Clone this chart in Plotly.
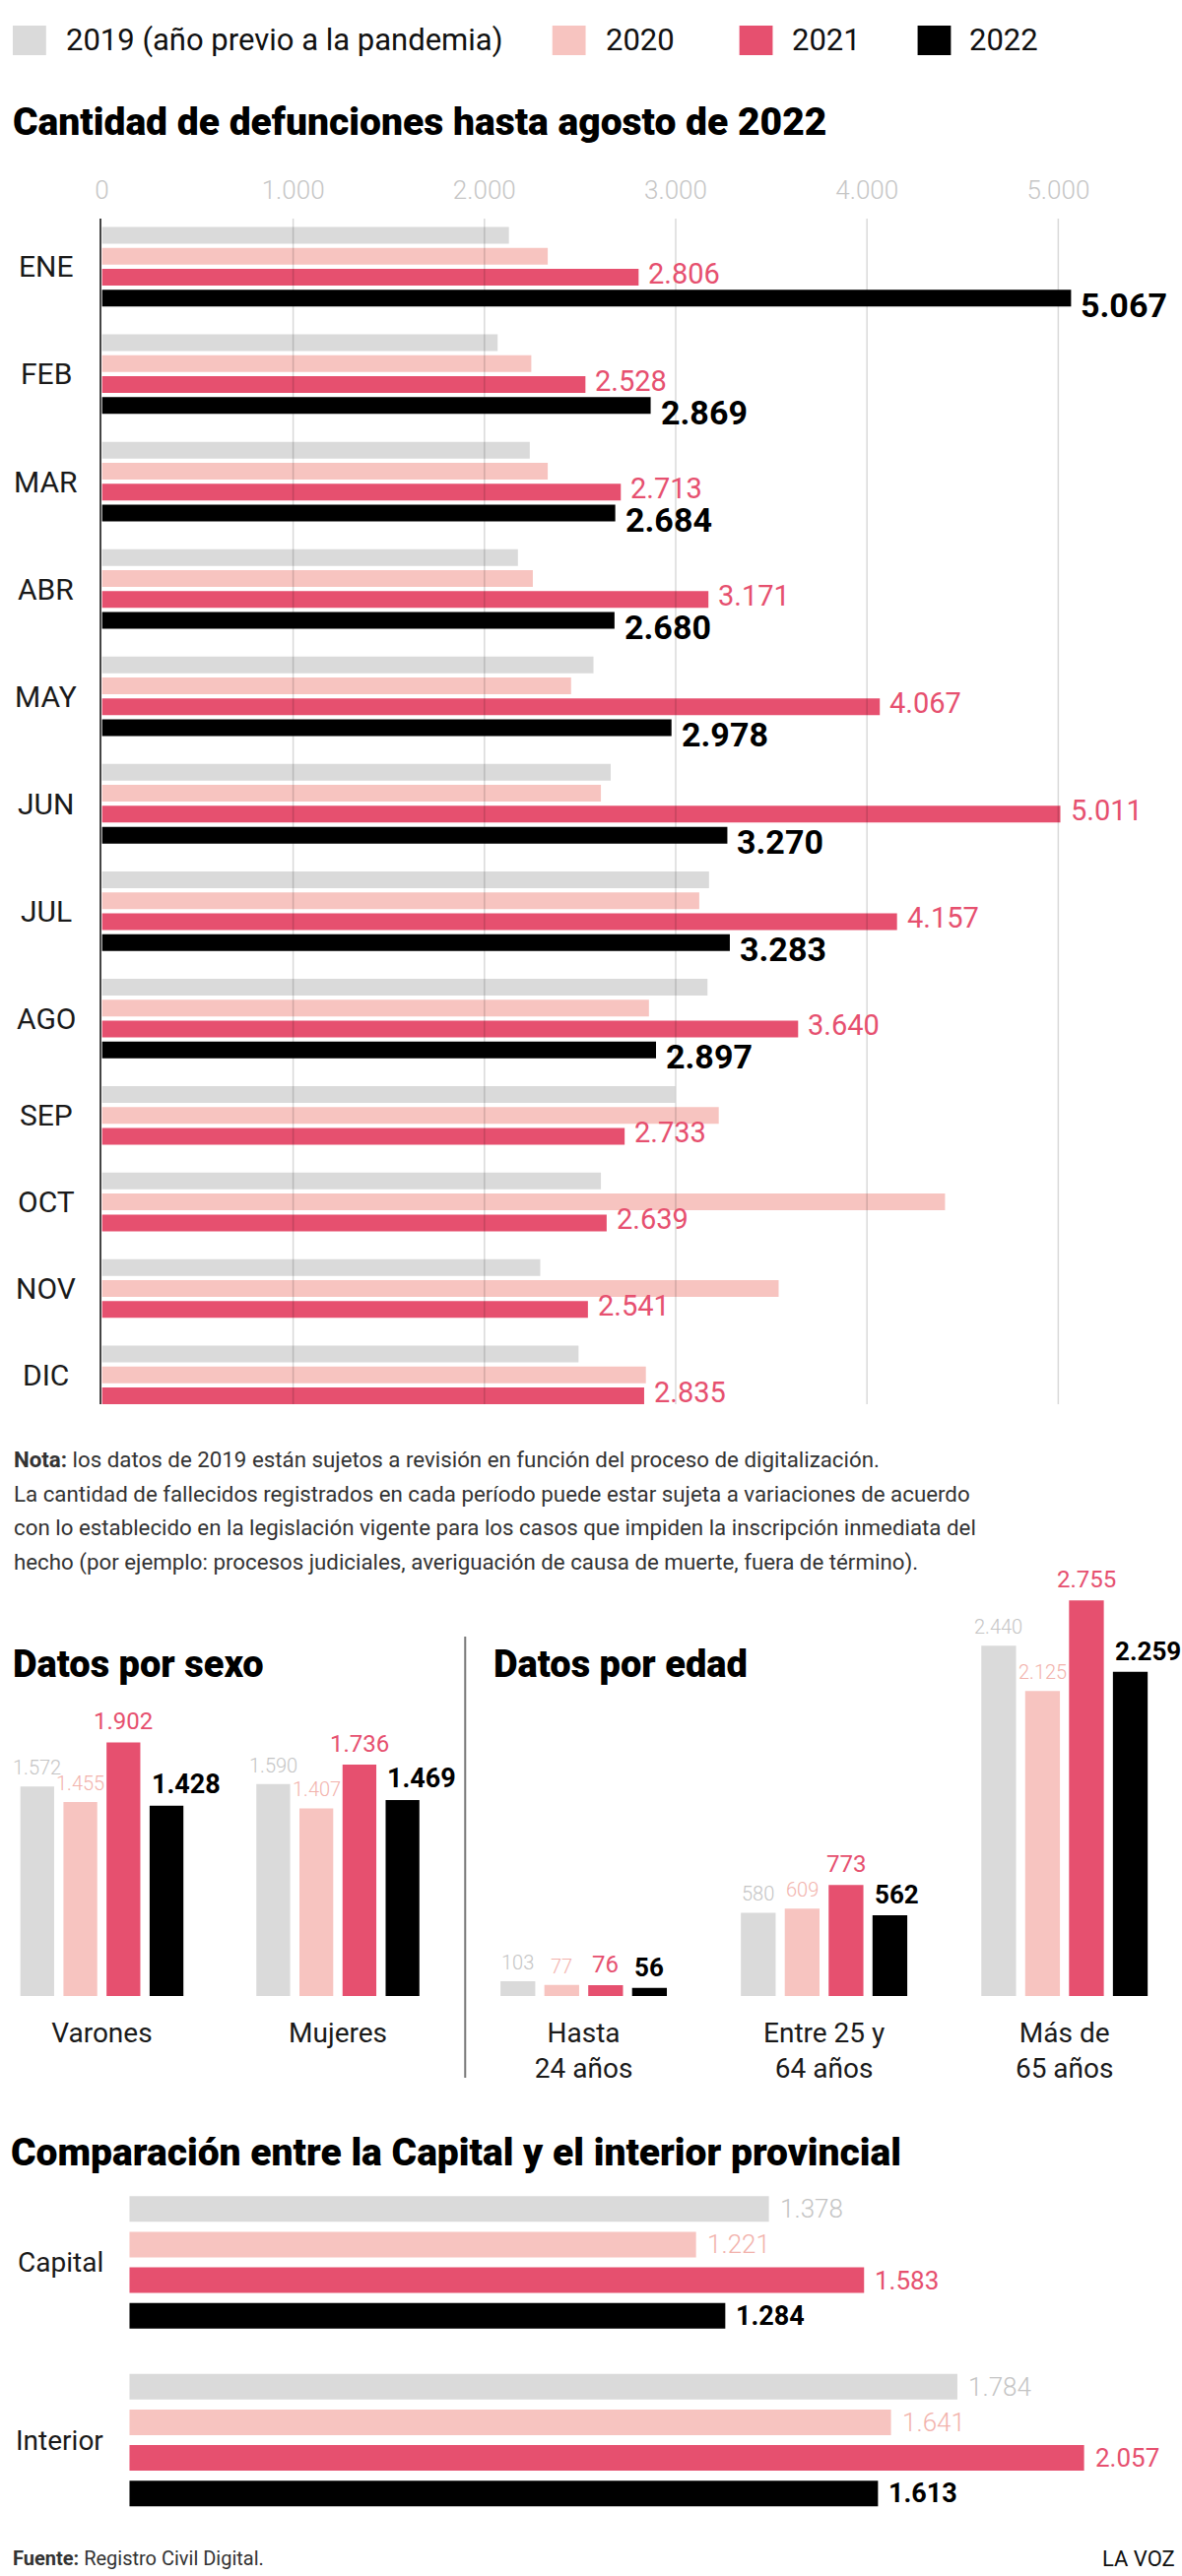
import plotly.graph_objects as go

# ---------------- DATA ----------------
series_labels = ["2019 (año previo a la pandemia)", "2020", "2021", "2022"]

months = ["ENE", "FEB", "MAR", "ABR", "MAY", "JUN", "JUL", "AGO", "SEP", "OCT", "NOV", "DIC"]
deaths_2019 = [2128, 2069, 2237, 2175, 2570, 2660, 3174, 3166, 2997, 2609, 2292, 2492]
deaths_2020 = [2331, 2245, 2331, 2253, 2453, 2609, 3123, 2860, 3225, 4408, 3538, 2844]
deaths_2021 = [2806, 2528, 2713, 3171, 4067, 5011, 4157, 3640, 2733, 2639, 2541, 2835]
deaths_2022 = [5067, 2869, 2684, 2680, 2978, 3270, 3283, 2897, None, None, None, None]
axis_ticks = [0, 1000, 2000, 3000, 4000, 5000]
axis_tick_labels = ["0", "1.000", "2.000", "3.000", "4.000", "5.000"]

sex_cats = ["Varones", "Mujeres"]
sex_2019 = [1572, 1590]
sex_2020 = [1455, 1407]
sex_2021 = [1902, 1736]
sex_2022 = [1428, 1469]

age_cats = ["Hasta<br>24 años", "Entre 25 y<br>64 años", "Más de<br>65 años"]
age_2019 = [103, 580, 2440]
age_2020 = [77, 609, 2125]
age_2021 = [76, 773, 2755]
age_2022 = [56, 562, 2259]

region_cats = ["Capital", "Interior"]
region_2019 = [1378, 1784]
region_2020 = [1221, 1641]
region_2021 = [1583, 2057]
region_2022 = [1284, 1613]

# ---------------- STYLE ----------------
W, H = 1200, 2616
FONT = "Roboto"
BAR_COLORS = ["#dadada", "#f7c4c0", "#e6506f", "#000000"]
LABEL_COLORS = ["#c4c4c4", "#f2b2ac", "#e6506f", "#000000"]


def px(x):
    return x / W


def py(y):
    return 1 - y / H


def fmt(v):
    return f"{v:,}".replace(",", ".")


def slot_positions(groups, gap):
    n = len(groups[0])
    pos = [[None] * len(groups) for _ in range(n)]
    centers = []
    p = 0.0
    for g, vals in enumerate(groups):
        first = p
        for s in range(n):
            if vals[s] is not None:
                pos[s][g] = p
                p += 1
        centers.append((first + p - 1) / 2)
        p += gap
    return pos, centers, p - gap - 1


fig = go.Figure()
annotations = []
shapes = []

# ---------------- MAIN CHART (months) ----------------
main_series = [deaths_2019, deaths_2020, deaths_2021, deaths_2022]
main_groups = list(zip(*main_series))
main_pos, month_centers, main_last = slot_positions(main_groups, 1.13)

for s, vals in enumerate(main_series):
    xs = [v for v in vals if v is not None]
    ys = [main_pos[s][i] for i, v in enumerate(vals) if v is not None]
    fig.add_trace(go.Bar(x=xs, y=ys, orientation="h", width=0.8,
                         marker=dict(color=BAR_COLORS[s], line=dict(width=0)),
                         xaxis="x", yaxis="y", hoverinfo="skip", showlegend=False))

for i, m in enumerate(months):
    annotations.append(dict(x=px(40), xref="paper", y=month_centers[i], yref="y",
                            text=m, showarrow=False, xanchor="center", yanchor="middle",
                            font=dict(family=FONT, size=30, color="#1a1a1a")))
    annotations.append(dict(x=deaths_2021[i], y=main_pos[2][i], xref="x", yref="y",
                            text=fmt(deaths_2021[i]), showarrow=False, xanchor="left",
                            yanchor="middle", xshift=8, yshift=4,
                            font=dict(family=FONT, size=29, color=LABEL_COLORS[2])))
    if deaths_2022[i] is not None:
        annotations.append(dict(x=deaths_2022[i], y=main_pos[3][i], xref="x", yref="y",
                                text=fmt(deaths_2022[i]), showarrow=False, xanchor="left",
                                yanchor="middle", xshift=8, yshift=-7,
                                font=dict(family=FONT, size=34, color="#000", weight=700)))

for t in axis_ticks[1:]:
    shapes.append(dict(type="line", xref="x", yref="paper", x0=t, x1=t,
                       y0=py(1426), y1=py(222), layer="above",
                       line=dict(color="rgba(0,0,0,0.15)", width=1.5)))

# ---------------- SEX / AGE CHARTS ----------------
sex_series = [sex_2019, sex_2020, sex_2021, sex_2022]
age_series = [age_2019, age_2020, age_2021, age_2022]
SEX_PITCH, SEX_W = 44 / 241, 34.5 / 241
AGE_PITCH, AGE_W = 44.8 / 245.5, 35.5 / 245.5
BASE_Y, TOP_Y = 2027, 1600


def vertical_group(series, pitch, width, xa, ya, sizes):
    for s, vals in enumerate(series):
        xs = [g + (s - 1.5) * pitch for g in range(len(vals))]
        fig.add_trace(go.Bar(x=xs, y=vals, width=width,
                             marker=dict(color=BAR_COLORS[s], line=dict(width=0)),
                             xaxis=xa, yaxis=ya, hoverinfo="skip", showlegend=False))
        for x, v in zip(xs, vals):
            if s == 3:
                annotations.append(dict(x=x - width / 2, y=v, xref=xa, yref=ya, text=fmt(v),
                                        showarrow=False, xanchor="left", yanchor="bottom",
                                        yshift=4,
                                        font=dict(family=FONT, size=sizes[s], color="#000",
                                                  weight=700)))
            else:
                annotations.append(dict(x=x, y=v, xref=xa, yref=ya, text=fmt(v),
                                        showarrow=False, xanchor="center", yanchor="bottom",
                                        yshift=5,
                                        font=dict(family=FONT, size=sizes[s],
                                                  color=LABEL_COLORS[s],
                                                  weight=300 if s < 2 else 400)))


vertical_group(sex_series, SEX_PITCH, SEX_W, "x2", "y2", [20, 20, 24, 27])
vertical_group(age_series, AGE_PITCH, AGE_W, "x3", "y3", [20, 20, 24, 26])

# ---------------- REGION CHART ----------------
region_series = [region_2019, region_2020, region_2021, region_2022]
region_groups = list(zip(*region_series))
reg_pos, reg_centers, reg_last = slot_positions(region_groups, 1.0)
for s, vals in enumerate(region_series):
    fig.add_trace(go.Bar(x=vals, y=reg_pos[s], orientation="h", width=0.72,
                         marker=dict(color=BAR_COLORS[s], line=dict(width=0)),
                         xaxis="x4", yaxis="y4", hoverinfo="skip", showlegend=False))
    for v, p in zip(vals, reg_pos[s]):
        annotations.append(dict(x=v, y=p, xref="x4", yref="y4", text=fmt(v), showarrow=False,
                                xanchor="left", yanchor="middle", xshift=9,
                                font=dict(family=FONT, size=27 if s == 3 else 26,
                                          color=LABEL_COLORS[s],
                                          weight=700 if s == 3 else (300 if s < 2 else 400))))
for c, yc in zip(region_cats, reg_centers):
    annotations.append(dict(x=px(101), xref="paper", y=yc, yref="y4", text=c,
                            showarrow=False, xanchor="right", yanchor="middle",
                            font=dict(family=FONT, size=28, color="#1a1a1a")))

# ---------------- LEGEND / TITLES / NOTES ----------------
legend_sq = [(6, 40), (557, 591), (748, 782), (930, 964)]
legend_tx = [58, 610, 800, 981]
for s in range(4):
    shapes.append(dict(type="rect", xref="paper", yref="paper",
                       x0=px(legend_sq[s][0]), x1=px(legend_sq[s][1]), y0=py(56), y1=py(26),
                       fillcolor=BAR_COLORS[s], line=dict(width=0)))
    annotations.append(dict(x=px(legend_tx[s]), y=py(41), xref="paper", yref="paper",
                            text=series_labels[s], showarrow=False, xanchor="left",
                            yanchor="middle", font=dict(family=FONT, size=31, color="#111")))


def title(text, x, y, size=38):
    annotations.append(dict(x=px(x), y=py(y), xref="paper", yref="paper", text=text,
                            showarrow=False, xanchor="left", yanchor="middle",
                            font=dict(family=FONT, size=size, color="#000", weight=900)))


title("Cantidad de defunciones hasta agosto de 2022", 4, 124, 39)
title("Datos por sexo", 4, 1690, 38)
title("Datos por edad", 495, 1690, 38)
title("Comparación entre la Capital y el interior provincial", 2, 2186, 39)

note_lines = [
    "<b>Nota:</b> los datos de 2019 están sujetos a revisión en función del proceso de digitalización.",
    "La cantidad de fallecidos registrados en cada período puede estar sujeta a variaciones de acuerdo",
    "con lo establecido en la legislación vigente para los casos que impiden la inscripción inmediata del",
    "hecho (por ejemplo: procesos judiciales, averiguación de causa de muerte, fuera de término).",
]
for i, line in enumerate(note_lines):
    annotations.append(dict(x=px(5), y=py(1482 + i * 34.7), xref="paper", yref="paper",
                            text=line, showarrow=False, xanchor="left", yanchor="middle",
                            font=dict(family=FONT, size=22.3, color="#333")))

shapes.append(dict(type="line", xref="paper", yref="paper", x0=px(468), x1=px(468),
                   y0=py(2110), y1=py(1662), line=dict(color="#777", width=2)))

annotations.append(dict(x=px(4), y=py(2598), xref="paper", yref="paper",
                        text="<b>Fuente:</b> Registro Civil Digital.", showarrow=False,
                        xanchor="left", yanchor="middle",
                        font=dict(family=FONT, size=20, color="#333")))
annotations.append(dict(x=px(1195), y=py(2598), xref="paper", yref="paper", text="LA VOZ",
                        showarrow=False, xanchor="right", yanchor="middle",
                        font=dict(family=FONT, size=22, color="#111")))

# ---------------- AXES ----------------
hidden = dict(visible=False, fixedrange=True)
fig.update_layout(
    width=W, height=H, margin=dict(l=0, r=0, t=0, b=0),
    paper_bgcolor="white", plot_bgcolor="white", showlegend=False, barmode="overlay",
    font=dict(family=FONT),
    xaxis=dict(domain=[px(97), px(1190)], range=[0, (1190 - 97) / 0.19533], side="top",
               anchor="y", tickvals=axis_ticks, ticktext=axis_tick_labels,
               tickfont=dict(family=FONT, size=26, color="#c6c6c6", weight=300),
               ticks="outside", ticklen=9, tickcolor="rgba(0,0,0,0)",
               showgrid=False, zeroline=False, showline=False),
    yaxis=dict(domain=[py(1426), py(222)], range=[main_last + 0.4, -0.8], anchor="x",
               showticklabels=False, showgrid=False, zeroline=False, ticks="",
               showline=True, linecolor="#444", linewidth=2),
    xaxis2=dict(domain=[0, px(440)], range=[-97 / 241, (440 - 97) / 241], anchor="y2",
                tickvals=list(range(len(sex_cats))), ticktext=sex_cats,
                tickfont=dict(family=FONT, size=28, color="#1a1a1a"),
                ticks="outside", ticklen=12, tickcolor="rgba(0,0,0,0)",
                showgrid=False, zeroline=False, showline=False),
    yaxis2=dict(domain=[py(BASE_Y), py(TOP_Y)], range=[0, (BASE_Y - TOP_Y) / 0.1354],
                anchor="x2", **hidden),
    xaxis3=dict(domain=[px(470), 1], range=[(470 - 589) / 245.5, (1200 - 589) / 245.5],
                anchor="y3", tickvals=list(range(len(age_cats))), ticktext=age_cats,
                tickfont=dict(family=FONT, size=28, color="#1a1a1a"),
                ticks="outside", ticklen=12, tickcolor="rgba(0,0,0,0)",
                showgrid=False, zeroline=False, showline=False),
    yaxis3=dict(domain=[py(BASE_Y), py(TOP_Y)], range=[0, (BASE_Y - TOP_Y) / 0.1458],
                anchor="x3", **hidden),
    xaxis4=dict(domain=[px(125), 1], range=[0, 1075 / 0.474], anchor="y4", **hidden),
    yaxis4=dict(domain=[py(2560), py(2215)], range=[reg_last + 0.77, -0.784], anchor="x4",
                **hidden),
    annotations=annotations, shapes=shapes,
)

fig.write_html("out.html")
